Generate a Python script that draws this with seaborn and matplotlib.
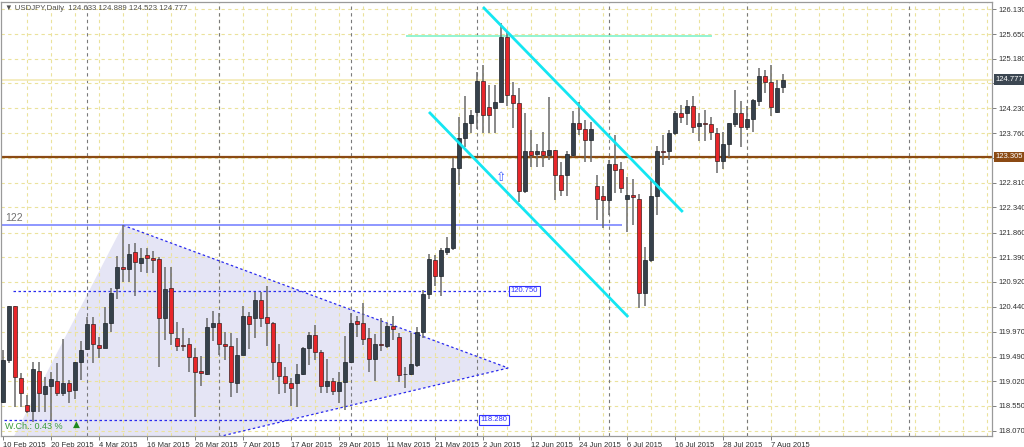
import matplotlib
matplotlib.use("Agg")
import matplotlib.pyplot as plt
import matplotlib.transforms as mtransforms
from matplotlib.patches import Polygon
import seaborn as sns
import numpy as np

# OHLC quotidien USDJPY
opens = [118.63, 119.43, 120.46, 119.09, 118.57, 118.46, 119.22, 118.78, 118.92, 119.03,
         118.79, 118.98, 118.85, 119.39, 119.63, 120.11, 119.71, 119.66, 120.13, 120.81,
         121.20, 121.16, 121.48, 121.27, 121.44, 121.38, 121.35, 120.22, 120.80, 119.84,
         119.72, 119.73, 119.48, 119.22, 119.15, 120.06, 120.14, 119.74, 119.70, 118.98,
         119.52, 120.27, 120.22, 120.57, 120.25, 120.13, 119.39, 119.12, 118.99, 118.99,
         119.15, 119.66, 119.90, 119.57, 118.92, 119.02, 118.84, 119.01, 119.38, 120.17,
         120.13, 119.84, 119.44, 119.73, 119.69, 120.08, 119.86, 119.15, 119.16, 119.33,
         119.97, 120.68, 121.34, 121.03, 121.48, 121.56, 123.09, 123.66, 123.96, 124.17,
         124.76, 124.25, 124.23, 124.36, 125.60, 124.49, 124.34, 122.66, 123.42, 123.37,
         123.42, 123.35, 123.44, 122.96, 122.96, 123.34, 123.95, 123.84, 123.62, 122.74,
         122.55, 122.48, 123.17, 123.07, 122.51, 122.57, 122.51, 120.70, 121.34, 122.55,
         123.42, 123.42, 123.77, 124.14, 124.14, 124.28, 123.90, 123.96, 123.93, 123.77,
         123.23, 123.55, 123.93, 124.14, 123.87, 124.02, 124.37, 124.86, 124.73, 124.17,
         124.633]
highs = [119.62, 120.46, 120.46, 119.18, 118.76, 119.39, 119.39, 119.11, 119.20, 119.36,
         119.82, 119.04, 119.39, 119.78, 120.25, 120.25, 119.87, 120.43, 120.80, 121.41,
         122.00, 121.65, 121.67, 121.56, 121.56, 121.51, 121.40, 121.21, 121.21, 120.16,
         120.03, 119.84, 119.65, 119.50, 120.22, 120.37, 120.32, 119.97, 119.94, 119.84,
         120.45, 120.35, 120.73, 120.73, 120.84, 120.16, 119.73, 119.29, 119.08, 119.34,
         119.68, 119.97, 120.09, 119.62, 119.44, 119.08, 119.20, 119.88, 120.32, 120.27,
         120.51, 120.03, 119.92, 120.22, 120.13, 120.27, 119.95, 119.30, 119.94, 120.06,
         120.76, 121.46, 121.43, 121.56, 121.78, 123.28, 124.07, 124.47, 124.21, 124.93,
         125.06, 124.68, 124.68, 125.86, 125.70, 124.74, 124.62, 124.14, 123.82, 123.56,
         123.79, 124.44, 123.44, 123.21, 123.41, 124.19, 124.36, 124.01, 123.98, 122.96,
         122.74, 123.25, 123.72, 123.21, 122.93, 122.88, 122.60, 121.59, 122.86, 123.51,
         123.72, 123.82, 124.18, 124.30, 124.39, 124.47, 124.14, 124.20, 124.07, 123.85,
         123.79, 123.95, 124.58, 124.38, 124.28, 124.42, 125.01, 124.97, 125.06, 124.77,
         124.889]
lows = [118.60, 119.36, 118.53, 118.53, 118.41, 118.25, 118.44, 118.44, 118.28, 118.73,
        118.73, 118.60, 118.69, 119.04, 119.62, 119.36, 119.46, 119.66, 119.97, 120.60,
        120.92, 120.92, 120.64, 121.11, 121.08, 121.09, 119.30, 119.81, 119.71, 119.59,
        119.59, 119.20, 118.34, 118.92, 119.14, 119.78, 119.52, 119.43, 118.71, 118.79,
        119.52, 119.63, 119.84, 120.05, 119.69, 119.04, 118.78, 118.80, 118.55, 118.52,
        119.14, 119.33, 119.43, 118.79, 118.79, 118.76, 118.60, 118.47, 119.36, 119.87,
        119.71, 119.20, 119.03, 119.59, 119.65, 119.81, 119.01, 118.89, 119.14, 119.30,
        119.84, 120.59, 120.84, 120.64, 121.43, 121.53, 122.77, 123.50, 123.77, 123.83,
        123.76, 123.76, 123.76, 124.36, 124.28, 123.85, 122.45, 122.61, 123.12, 123.12,
        123.12, 123.25, 122.48, 122.55, 122.55, 123.31, 123.72, 123.21, 123.21, 122.10,
        121.94, 122.20, 122.61, 122.61, 121.88, 122.00, 120.41, 120.46, 121.30, 122.20,
        123.15, 123.25, 123.72, 123.95, 123.91, 123.76, 123.60, 123.60, 123.63, 123.00,
        123.07, 123.31, 123.88, 123.50, 123.82, 123.79, 124.28, 124.53, 124.09, 124.15,
        124.523]
closes = [119.43, 120.46, 119.11, 118.79, 118.46, 119.25, 118.79, 118.93, 119.06, 118.79,
          118.98, 118.84, 119.39, 119.62, 120.11, 119.73, 119.66, 120.13, 120.70, 121.20,
          121.16, 121.46, 121.29, 121.37, 121.37, 121.34, 120.22, 120.78, 119.95, 119.69,
          119.70, 119.48, 119.20, 119.17, 120.06, 120.14, 119.74, 119.70, 119.01, 119.53,
          120.27, 120.11, 120.57, 120.22, 120.13, 119.39, 119.12, 118.99, 118.90, 119.15,
          119.66, 119.90, 119.57, 118.93, 119.02, 118.84, 119.01, 119.38, 120.14, 120.11,
          119.82, 119.44, 119.74, 119.72, 120.08, 120.01, 119.14, 119.16, 119.35, 119.97,
          120.68, 121.35, 121.03, 121.53, 121.56, 123.09, 123.66, 123.96, 124.11, 124.76,
          124.11, 124.11, 124.36, 125.60, 124.49, 124.34, 122.66, 123.42, 123.35, 123.42,
          123.35, 123.44, 122.96, 122.67, 123.37, 123.95, 123.84, 123.62, 123.84, 122.51,
          122.48, 123.17, 123.06, 122.72, 122.57, 122.53, 120.70, 121.34, 122.55, 123.42,
          123.39, 123.77, 124.14, 124.07, 124.28, 123.88, 123.96, 123.93, 123.79, 123.23,
          123.55, 123.95, 124.14, 123.88, 124.03, 124.39, 124.86, 124.73, 124.25, 124.63,
          124.777]

date_labels = ["10 Feb 2015", "20 Feb 2015", "4 Mar 2015", "16 Mar 2015", "26 Mar 2015",
               "7 Apr 2015", "17 Apr 2015", "29 Apr 2015", "11 May 2015", "21 May 2015",
               "2 Jun 2015", "12 Jun 2015", "24 Jun 2015", "6 Jul 2015", "16 Jul 2015",
               "28 Jul 2015", "7 Aug 2015"]
date_pos = list(range(0, 129, 8))
price_ticks = [126.130, 125.650, 125.180, 124.710, 124.230, 123.760, 123.290, 122.810,
               122.340, 121.860, 121.390, 120.920, 120.440, 119.970, 119.490, 119.020,
               118.550, 118.070]
# graduations cachees par les etiquettes de prix
hidden_ticks = [124.710, 123.290]
month_breaks = [14, 36, 58, 79, 101, 124, 151]

# objets dessines (barre, prix)
triangle_pts = [(20, 122.0), (84.2, 119.273), (-3, 116.9)]
channel_up = [(80, 126.168), (113.3, 122.253)]
channel_low = [(71, 124.163), (104.2, 120.247)]
resistance = 125.615
level_122 = 122.0
level_mid = 120.750
level_low = 118.280
support = 123.305
last_price = 124.777

sns.set_theme(style="white")
plt.rcParams["font.family"] = ["Liberation Sans", "DejaVu Sans"]

fig = plt.figure(figsize=(10.24, 4.47), dpi=100)
ax = fig.add_axes([1 / 1024, 11 / 447, 991 / 1024, 434 / 447])
ax.set_xlim(-1 / 3, -1 / 3 + 991 / 6)
ax.set_ylim(117.974, 126.264)

# grille
for p in price_ticks:
    ax.axhline(p, color="#ebe29c", lw=0.8, ls=(0, (3, 3)), zorder=1)
for xg in range(4, 165, 4):
    ax.axvline(xg, color="#ebe29c", lw=0.8, ls=(0, (3, 3)), zorder=1)
for xm in month_breaks:
    ax.axvline(xm, color="#7a7a7a", lw=0.8, ls=(0, (3, 3)), zorder=1.5)

# triangle
tri = Polygon(triangle_pts, closed=True, fc="#e5e5f5", ec="none", zorder=0.5)
ax.add_patch(tri)
ax.plot([triangle_pts[0][0], triangle_pts[1][0]], [triangle_pts[0][1], triangle_pts[1][1]],
        color="#2a2aee", lw=0.9, ls=(0, (2, 2)), zorder=2)
ax.plot([triangle_pts[1][0], triangle_pts[2][0]], [triangle_pts[1][1], triangle_pts[2][1]],
        color="#2a2aee", lw=0.9, ls=(0, (2, 2)), zorder=2)

# niveaux horizontaux
ax.axhline(last_price, color="#f3eab5", lw=1.2, zorder=1.6)
ax.axhline(support, color="#8b4a14", lw=1.6, zorder=2)
ax.hlines(level_122, -1, 103.2, color="#6f7bff", lw=1.1, zorder=2)
ax.hlines(resistance, 67.2, 118.2, color="#8af3cf", lw=1.3, zorder=2)
ax.hlines(level_mid, 1.7, 84.5, color="#2a2aee", lw=0.9, ls=(0, (2, 2)), zorder=2)
ax.hlines(level_low, -1, 79.5, color="#2a2aee", lw=0.9, ls=(0, (2, 2)), zorder=2)

# canal
for seg in [channel_up, channel_low]:
    ax.plot([seg[0][0], seg[1][0]], [seg[0][1], seg[1][1]], color="#14e6f2", lw=2.0,
            solid_capstyle="butt", zorder=5)

# bougies
x = np.arange(len(opens))
o = np.array(opens)
h = np.array(highs)
l = np.array(lows)
c = np.array(closes)
bull = c >= o
ax.vlines(x, l, h, color="#6a6a6a", lw=1.1, zorder=3)
bas = np.minimum(o, c)
haut = np.maximum(np.abs(c - o), 0.014)
ax.bar(x[bull], haut[bull], bottom=bas[bull], width=0.62, color="#36414b",
       edgecolor="#1c2228", lw=0.5, zorder=4)
ax.bar(x[~bull], haut[~bull], bottom=bas[~bull], width=0.62, color="#e8262a",
       edgecolor="#3a2020", lw=0.5, zorder=4)

# textes
ax.text(0.3, level_122 + 0.05, "122", fontsize=7.5, color="#707070", va="bottom", zorder=6)
box_blue = dict(boxstyle="square,pad=0.2", fc="white", ec="#3030ff", lw=0.8)
ax.text(84.6, level_mid, "120.750", fontsize=5.5, color="#3030ff", va="center", ha="left",
        bbox=box_blue, zorder=6)
ax.text(79.6, level_low, "118.280", fontsize=5.5, color="#3030ff", va="center", ha="left",
        bbox=box_blue, zorder=6)
ax.text(83, 122.91, "\u21e7", fontsize=9, color="#3a5cff", ha="center", va="center",
        family=["DejaVu Sans"], zorder=6)
ax.text(0.3, 118.16, "W.Ch.: 0.43 %", fontsize=6.5, color="#3a9a3a", va="center", zorder=6)
ax.text(11.6, 118.19, "\u25b2", fontsize=6.5, color="#1f8a1f", va="center",
        family=["DejaVu Sans"], zorder=6)
ax.text(0.004, 0.992, "\u25bc USDJPY,Daily  124.633 124.889 124.523 124.777",
        transform=ax.transAxes, fontsize=5.6, color="#505050", va="top", ha="left", zorder=6)

trans = mtransforms.blended_transform_factory(ax.transAxes, ax.transData)
ax.text(1.004, last_price, "124.777", transform=trans, fontsize=5.5, color="white",
        va="center", ha="left", clip_on=False, zorder=10,
        bbox=dict(boxstyle="square,pad=0.25", fc="#3c4752", ec="none"))
ax.text(1.004, support, "123.305", transform=trans, fontsize=5.5, color="white",
        va="center", ha="left", clip_on=False, zorder=10,
        bbox=dict(boxstyle="square,pad=0.25", fc="#8b4a14", ec="none"))

# axes
ax.yaxis.tick_right()
ax.set_yticks(price_ticks)
ax.set_yticklabels(["" if p in hidden_ticks else "%.3f" % p for p in price_ticks])
ax.set_xticks(date_pos)
ax.set_xticklabels(date_labels)
for lab in ax.get_xticklabels():
    lab.set_ha("left")
ax.tick_params(axis="y", direction="out", length=3, width=0.7, pad=1.5, labelsize=5.5,
               color="#808080", labelcolor="#303030", right=True, left=False)
ax.tick_params(axis="x", direction="out", length=3, width=0.7, pad=1, labelsize=5.5,
               color="#808080", labelcolor="#303030", bottom=True)
ax.grid(False)
for sp in ax.spines.values():
    sp.set_color("#9a9a9a")
    sp.set_linewidth(0.9)

fig.savefig("out.png", dpi=100)
